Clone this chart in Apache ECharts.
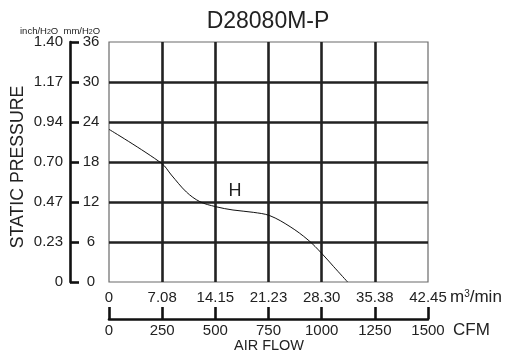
<!DOCTYPE html>
<html><head><meta charset="utf-8">
<script src="https://cdn.jsdelivr.net/npm/echarts@6/dist/echarts.min.js"></script>
<style>html,body{margin:0;padding:0;background:#fff}#c{width:510px;height:356px}</style>
</head><body><div id="c"></div>
<script>
// Data
var flowM3 = [0, 7.0, 8.3, 10.3, 12.1, 14.2, 16.5, 19.2, 21.4, 24.1, 26.5, 28.3, 29.9, 31.75];
var pressureMm = [22.9, 17.8, 16.05, 13.5, 12.05, 11.3, 10.8, 10.45, 9.95, 8.3, 6.3, 4.3, 2.3, 0];
var flowTicksM3 = ['0', '7.08', '14.15', '21.23', '28.30', '35.38', '42.45'];
var flowTicksCfm = ['0', '250', '500', '750', '1000', '1250', '1500'];
var pressTicksMm = ['0', '6', '12', '18', '24', '30', '36'];
var pressTicksInch = ['0', '0.23', '0.47', '0.70', '0.94', '1.17', '1.40'];
var titleText = 'D28080M-P';
var curveLabel = 'H';

var FONT = 'Liberation Sans, Arial, sans-serif';
var TXT = '#222';
var LF = 15;
var xMax = 42.45, xStep = xMax / 6;

var chart = echarts.init(document.getElementById('c'), null, {renderer: 'canvas'});
chart.setOption({
  animation: false,
  backgroundColor: '#fff',
  textStyle: {fontFamily: FONT, color: TXT},
  grid: {left: 109, top: 42, width: 319, height: 240, show: true,
    borderColor: '#6a6a6a', borderWidth: 1.2, backgroundColor: 'transparent'},
  xAxis: [{
    type: 'value', min: 0, max: xMax, interval: xStep, position: 'bottom',
    axisLine: {show: false, onZero: false}, axisTick: {show: false},
    splitLine: {show: true, showMinLine: false, showMaxLine: false, lineStyle: {color: '#222', width: 2.6}},
    axisLabel: {show: true, margin: 8, fontSize: LF, color: TXT, fontFamily: FONT, showMaxLabel: true, showMinLabel: true,
      formatter: function (v) { return flowTicksM3[Math.round(v / xStep)]; }}
  }, {
    type: 'value', min: 0, max: 1500, interval: 250, position: 'bottom', offset: 37,
    axisLine: {show: true, onZero: false, lineStyle: {color: '#111', width: 2.6}},
    axisTick: {show: true, inside: true, length: 12, lineStyle: {color: '#111', width: 2.6}},
    splitLine: {show: false},
    axisLabel: {show: true, margin: 4, fontSize: LF, color: TXT, fontFamily: FONT,
      formatter: function (v) { return flowTicksCfm[Math.round(v / 250)]; }}
  }],
  yAxis: [{
    type: 'value', min: 0, max: 36, interval: 6,
    axisLine: {show: false, onZero: false}, axisTick: {show: false}, axisLabel: {show: false},
    splitLine: {show: true, showMinLine: false, showMaxLine: false, lineStyle: {color: '#222', width: 2.6}}
  }, {
    type: 'value', min: 0, max: 36, interval: 6, position: 'left', offset: 39,
    axisLine: {show: true, onZero: false, lineStyle: {color: '#111', width: 2.6}},
    axisTick: {show: true, inside: true, length: 9, lineStyle: {color: '#111', width: 2.6}},
    splitLine: {show: false},
    axisLabel: {show: true, margin: 7, fontSize: LF, color: TXT, fontFamily: FONT,
      formatter: function (v) { return pressTicksInch[Math.round(v / 6)]; }}
  }, {
    type: 'value', min: 0, max: 36, interval: 6, position: 'left', offset: 39,
    axisLine: {show: false, onZero: false}, axisTick: {show: false}, splitLine: {show: false},
    axisLabel: {show: true, inside: true, margin: 21, align: 'center', fontSize: LF, color: TXT, fontFamily: FONT,
      formatter: function (v) { return pressTicksMm[Math.round(v / 6)]; }}
  }],
  series: [{
    type: 'line', xAxisIndex: 0, yAxisIndex: 0, smooth: 0.35, showSymbol: false, symbol: 'none',
    lineStyle: {color: '#111', width: 1}, z: 5,
    data: flowM3.map(function (x, i) { return [x, pressureMm[i]]; })
  }],
  graphic: [
    {type: 'text', x: 268, y: 22, style: {text: titleText, fontFamily: FONT, fontSize: 23, fill: TXT,
      align: 'center', verticalAlign: 'middle'}},
    {type: 'text', left: 20, top: 26, style: {text: 'inch/H{b|2}O  mm/H{b|2}O', fontFamily: FONT, fontSize: 9.5, fill: TXT,
      rich: {b: {fontSize: 7, verticalAlign: 'bottom', padding: [3, 0, 0, 0], fontFamily: FONT, fill: TXT}}}},
    {type: 'text', x: 18, y: 167, rotation: Math.PI / 2, style: {text: 'STATIC PRESSURE', fontFamily: FONT, fontSize: 17.7,
      fill: TXT, align: 'center', verticalAlign: 'middle'}},
    {type: 'text', x: 269, y: 346, style: {text: 'AIR FLOW', fontFamily: FONT, fontSize: 14.5, fill: TXT,
      align: 'center', verticalAlign: 'middle'}},
    {type: 'text', x: 235, y: 191, style: {text: curveLabel, fontFamily: FONT, fontSize: 18, fill: TXT,
      align: 'center', verticalAlign: 'middle'}},
    {type: 'text', x: 450, y: 289, style: {text: 'm{s|3}/min', fontFamily: FONT, fontSize: 17, fill: TXT,
      rich: {s: {fontSize: 10, verticalAlign: 'top', fontFamily: FONT, fill: TXT}}}},
    {type: 'text', x: 453, y: 330, style: {text: 'CFM', fontFamily: FONT, fontSize: 17, fill: TXT,
      align: 'left', verticalAlign: 'middle'}}
  ]
});
</script></body></html>
